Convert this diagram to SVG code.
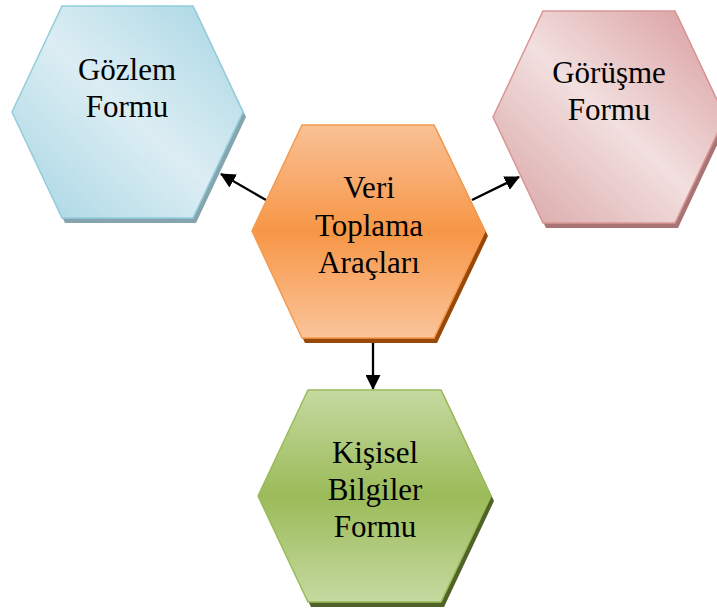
<svg xmlns="http://www.w3.org/2000/svg" width="717" height="610" viewBox="0 0 717 610">
<defs>
<linearGradient id="gBlue" x1="1" y1="0" x2="0" y2="1">
<stop offset="0" stop-color="#a6d6e4"/>
<stop offset="0.5" stop-color="#dcedf3"/>
<stop offset="1" stop-color="#a6d6e4"/>
</linearGradient>
<linearGradient id="gPink" x1="1" y1="0" x2="0" y2="1">
<stop offset="0" stop-color="#d8999a"/>
<stop offset="0.5" stop-color="#f2dfdf"/>
<stop offset="1" stop-color="#d8a3a3"/>
</linearGradient>
<linearGradient id="gOrange" x1="0" y1="0" x2="0" y2="1">
<stop offset="0" stop-color="#f9c196"/>
<stop offset="0.5" stop-color="#f79646"/>
<stop offset="1" stop-color="#fac49a"/>
</linearGradient>
<linearGradient id="gGreen" x1="0" y1="0" x2="0" y2="1">
<stop offset="0" stop-color="#c5d9a0"/>
<stop offset="0.5" stop-color="#9bbb59"/>
<stop offset="1" stop-color="#c5d9a0"/>
</linearGradient>
<marker id="arr" viewBox="0 0 15 15" refX="14" refY="7.5" markerWidth="15" markerHeight="15" orient="auto" markerUnits="userSpaceOnUse">
<path d="M0,0 L15,7.5 L0,15 z" fill="#000"/>
</marker>
<style>
text{font-family:"Liberation Serif","Times New Roman",serif;font-size:31px;fill:#000;text-anchor:middle}
.hex{stroke-width:1.5}
.conn{stroke:#000;stroke-width:2.3;fill:none;marker-end:url(#arr)}
</style>
</defs>
<g id="connectors">
<line class="conn" x1="266" y1="200" x2="221" y2="174"/>
<line class="conn" x1="472" y1="200" x2="519" y2="177"/>
<line class="conn" x1="373" y1="340" x2="373" y2="389"/>
</g>
<g id="gozlem">
<polygon points="15,117 65,11 196,11 246,117 196,223 65,223" fill="#86a4ad"/>
<polygon class="hex" points="12,112 62,6 193,6 243,112 193,218 62,218" fill="url(#gBlue)" stroke="#92cddc"/>
<text x="127" y="80">Gözlem</text>
<text x="127" y="117">Formu</text>
</g>
<g id="gorusme">
<polygon points="496,122 546,16 678,16 728,122 678,228 546,228" fill="#a87474"/>
<polygon class="hex" points="493,117 543,11 675,11 725,117 675,223 543,223" fill="url(#gPink)" stroke="#d99694"/>
<text x="609" y="83">Görüşme</text>
<text x="609" y="120">Formu</text>
</g>
<g id="veri">
<polygon points="255,236 305,130 437,130 488,236 437,343 305,343" fill="#984807"/>
<polygon class="hex" points="252,231 302,125 434,125 485,231 434,338 302,338" fill="url(#gOrange)" stroke="#f59a4e"/>
<text x="369" y="198">Veri</text>
<text x="369" y="236">Toplama</text>
<text x="369" y="273">Araçları</text>
</g>
<g id="kisisel">
<polygon points="261,501 311,395 444,395 494,501 444,607 311,607" fill="#4f6228"/>
<polygon class="hex" points="258,496 308,390 441,390 491,496 441,602 308,602" fill="url(#gGreen)" stroke="#9bbb59"/>
<text x="375" y="463">Kişisel</text>
<text x="375" y="500">Bilgiler</text>
<text x="375" y="537">Formu</text>
</g>
</svg>
